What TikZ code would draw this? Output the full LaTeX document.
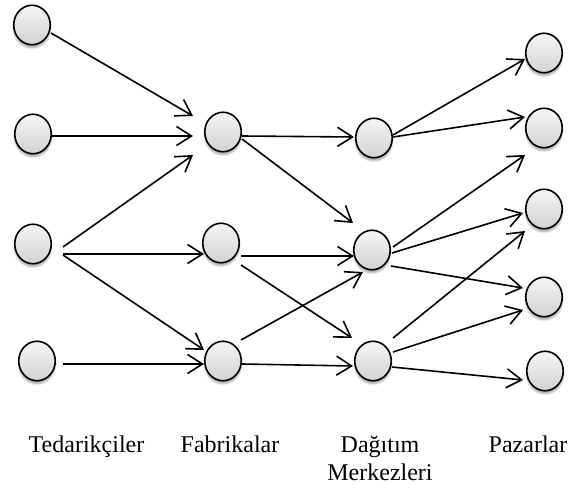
\documentclass[tikz,border=0pt]{standalone}
\usepackage{fontspec}
\setmainfont{Liberation Serif}
\usetikzlibrary{arrows.meta,calc,shadows.blur,shapes.geometric}
\begin{document}
\begin{tikzpicture}[x=1pt,y=-1pt,
  site/.style={ellipse, draw=black, line width=1.6pt, minimum width=36.5pt, minimum height=39.5pt, inner sep=0pt,
    top color=gray!8, bottom color=gray!35,
    blur shadow={shadow xshift=0pt, shadow yshift=-3pt, shadow blur steps=6, shadow opacity=35}},
  arr/.style={line width=1.6pt, -{Straight Barb[length=15pt,width=19pt,line width=1.6pt]}},
  lbl/.style={font=\fontsize{24}{28}\selectfont, anchor=base, align=center, inner sep=0pt}]
\useasboundingbox (0,0) rectangle (568,489);

% nodes
\node[site] (S1) at (32,25) {};
\node[site] (S2) at (33,134) {};
\node[site] (S3) at (33,244) {};
\node[site] (S4) at (37,361) {};
\node[site] (F1) at (223,132) {};
\node[site] (F2) at (221,243) {};
\node[site] (F3) at (223,361) {};
\node[site] (D1) at (374,138) {};
\node[site] (D2) at (372,250) {};
\node[site] (D3) at (373,361) {};
\node[site] (M1) at (544,53) {};
\node[site] (M2) at (544,128) {};
\node[site] (M3) at (544,209) {};
\node[site] (M4) at (544,297) {};
\node[site] (M5) at (545,371) {};

% suppliers -> factories
\draw[arr] ($(S1)+(19,8)$) -- ($(F1)+(-30,-16)$);
\draw[arr] ($(S2)+(19,2)$) -- ($(F1)+(-30,4)$);
\draw[arr] ($(S3)+(30,3)$) -- ($(F1)+(-30,23)$);
\draw[arr] ($(S3)+(30,10)$) -- ($(F2)+(-17,11)$);
\draw[arr] ($(S3)+(30,11)$) -- ($(F3)+(-19,-11)$);
\draw[arr] ($(S4)+(26,3)$) -- ($(F3)+(-19,3)$);

% factories -> distribution centres
\draw[arr] ($(F1)+(19,4)$) -- ($(D1)+(-20,-1)$);
\draw[arr] ($(F1)+(19,7)$) -- ($(D2)+(-19,-27)$);
\draw[arr] ($(F2)+(20,13)$) -- ($(D2)+(-18,6)$);
\draw[arr] ($(F2)+(20,22)$) -- ($(D3)+(-21,-23)$);
\draw[arr] ($(F3)+(18,-21)$) -- ($(D2)+(-9,22)$);
\draw[arr] ($(F3)+(19,3)$) -- ($(D3)+(-20,5)$);

% distribution centres -> markets
\draw[arr] ($(D1)+(19,-3)$) -- ($(M1)+(-19,6)$);
\draw[arr] ($(D1)+(19,-1)$) -- ($(M2)+(-19,-11)$);
\draw[arr] ($(D2)+(21,-3)$) -- ($(M2)+(-19,27)$);
\draw[arr] ($(D2)+(20,3)$) -- ($(M3)+(-21,4)$);
\draw[arr] ($(D2)+(19,16)$) -- ($(M4)+(-21,-9)$);
\draw[arr] ($(D3)+(20,-23)$) -- ($(M3)+(-19,22)$);
\draw[arr] ($(D3)+(20,-9)$) -- ($(M4)+(-21,13)$);
\draw[arr] ($(D3)+(19,6)$) -- ($(M5)+(-22,9)$);

% labels
\node[lbl] (L1) at (86.5,452) {Tedarikçiler};
\node[lbl] (L2) at (230,452) {Fabrikalar};
\node[lbl] (L3) at (380,480) {Dağıtım\\Merkezleri};
\node[lbl] (L4) at (528,452) {Pazarlar};
\end{tikzpicture}
\end{document}
